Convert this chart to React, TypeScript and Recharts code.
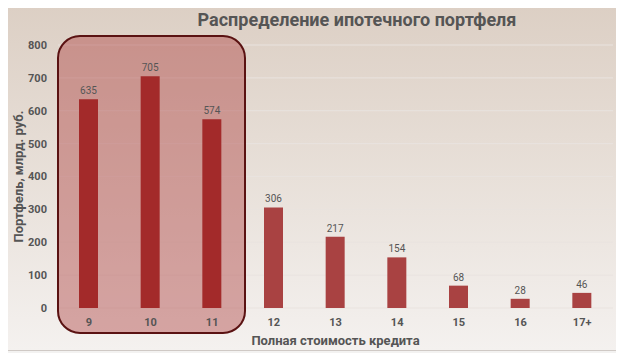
import { BarChart, Bar, XAxis, YAxis, CartesianGrid, ReferenceArea, LabelList, Cell, Label } from "recharts";

const categories = ["9", "10", "11", "12", "13", "14", "15", "16", "17+"];
const portfolio = [635, 705, 574, 306, 217, 154, 68, 28, 46];
const highlighted = ["9", "10", "11"];
const yTicks = [0, 100, 200, 300, 400, 500, 600, 700, 800];

const data = categories.map((c, i) => ({ rate: c, value: portfolio[i] }));

const FONT = "'Liberation Sans Narrow', 'Arial Narrow', 'Roboto', sans-serif";

function RoundedBox(props: any) {
  const { x, y, width, height } = props;
  // the box reaches past the plot so the tick labels sit inside it
  return (
    <rect
      x={x}
      y={y - 9}
      width={width + 2}
      height={height + 34}
      rx={22}
      ry={22}
      fill="rgba(168, 50, 50, 0.4)"
      stroke="#5a1212"
      strokeWidth={2}
    />
  );
}

export default function App() {
  return (
    <div style={{ position: "relative", width: 624, height: 361, margin: -8, background: "#f3f2f1", fontFamily: FONT }}>
      <div
        style={{
          position: "absolute",
          left: 3,
          top: 2,
          width: 615,
          height: 347,
          border: "1px solid #cfc9c5",
          background: "linear-gradient(180deg, #dccfc4 0%, #e8e0d9 50%, #f4f1ef 100%)",
        }}
      />
      <div
        style={{
          position: "absolute",
          left: 157,
          width: 400,
          top: 9,
          textAlign: "center",
          fontSize: 18,
          fontWeight: "bold",
          color: "#555",
        }}
      >
        Распределение ипотечного портфеля
      </div>
      <div style={{ position: "absolute", left: 0, top: 0 }}>
        <BarChart width={624} height={361} data={data} margin={{ top: 45, right: 11, bottom: 3, left: 8 }}>
          <CartesianGrid vertical={false} stroke="#e9e3df" />
          <ReferenceArea x1="9" x2="11" y1={0} y2={800} shape={RoundedBox} />
          <XAxis
            dataKey="rate"
            axisLine={false}
            tickLine={false}
            tickMargin={4}
            height={50}
            tick={{ fill: "#555", fontSize: 11, fontWeight: "bold", fontFamily: FONT }}
          >
            <Label
              value="Полная стоимость кредита"
              position="insideBottom"
              offset={13}
              style={{ fill: "#555", fontSize: 13, fontWeight: "bold", fontFamily: FONT }}
            />
          </XAxis>
          <YAxis
            width={50}
            domain={[0, 800]}
            ticks={yTicks}
            axisLine={false}
            tickLine={false}
            tickMargin={5}
            tick={{ fill: "#555", fontSize: 11, fontWeight: "bold", fontFamily: FONT }}
          >
            <Label
              value="Портфель, млрд. руб."
              angle={-90}
              position="insideLeft"
              dx={5}
              style={{ textAnchor: "middle", fill: "#555", fontSize: 13, fontWeight: "bold", fontFamily: FONT }}
            />
          </YAxis>
          <Bar dataKey="value" barSize={19} isAnimationActive={false}>
            {data.map((d) => (
              <Cell key={d.rate} fill={highlighted.includes(d.rate) ? "#a32a2a" : "#a94242"} />
            ))}
            <LabelList dataKey="value" position="top" fill="#555" fontSize={10} fontFamily={FONT} />
          </Bar>
        </BarChart>
      </div>
    </div>
  );
}
